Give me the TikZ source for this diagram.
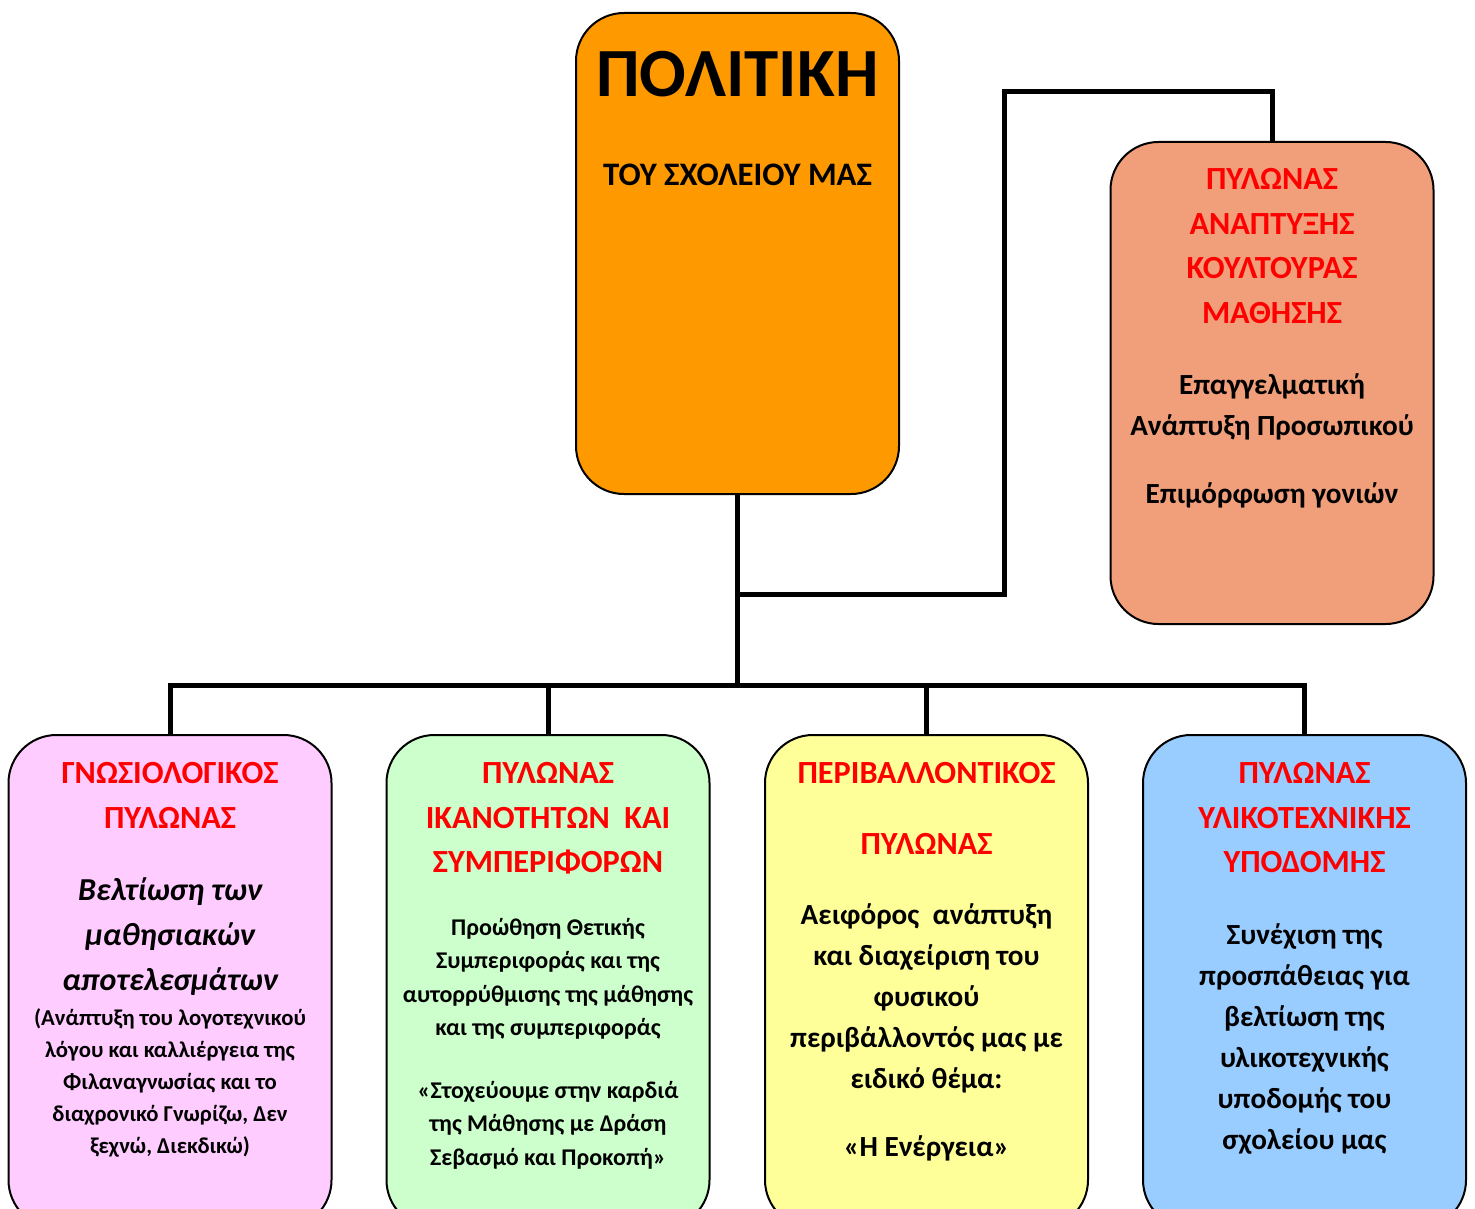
\documentclass[tikz,border=0pt]{standalone}
\usepackage{fontspec}
\setmainfont{Carlito}
\usetikzlibrary{positioning}

\definecolor{polorange}{HTML}{FF9900}
\definecolor{salmonbox}{HTML}{F19E7B}
\definecolor{pinkbox}{HTML}{FFCCFF}
\definecolor{greenbox}{HTML}{CCFFCC}
\definecolor{yellowbox}{HTML}{FFFF99}
\definecolor{bluebox}{HTML}{99CCFF}

\tikzset{
  pillar/.style={draw=black, line width=2pt, rounded corners=48pt,
    minimum width=323pt, minimum height=482pt, inner sep=0pt},
  conn/.style={draw=black, line width=5pt},
  redtitle/.style={text=red, font=\bfseries\fontsize{32.3}{44.5}\selectfont,
    align=center, anchor=north, inner sep=0pt},
  bodytext/.style={font=\bfseries\fontsize{29.2}{41}\selectfont,
    align=center, anchor=north, inner sep=0pt},
  smalltext/.style={font=\bfseries\fontsize{24}{33.5}\selectfont,
    align=center, anchor=north, inner sep=0pt}
}

\begin{document}
\begin{tikzpicture}[x=1pt, y=-1pt]
        \useasboundingbox (0,0) rectangle (1475,1209);
        \clip (0,0) rectangle (1475,1209);

        % Define nodes
        \node[pillar, fill=polorange, minimum height=481pt] (politiki) at (737.5,253.5) {};
        \node[pillar, fill=salmonbox] (koultoura) at (1272,383) {};

        \node[pillar, fill=pinkbox, minimum height=493pt] (gnosi) at (170,981.5) {};
        \node[pillar, fill=greenbox, minimum height=493pt] (ikanot) at (548,981.5) {};
        \node[pillar, fill=yellowbox, minimum height=493pt] (perib) at (926.5,981.5) {};
        \node[pillar, fill=bluebox, minimum height=493pt] (ypodomi) at (1304.5,981.5) {};

        \coordinate (bus) at (737.5,685);
        \coordinate (elbow) at (737.5,594);
        \coordinate (riser) at (1004,92);

        % Texts of the boxes
        \node[anchor=north, inner sep=0pt, font=\bfseries\fontsize{69}{70}\selectfont] (politikiT) at (737.5,51.5) {ΠΟΛΙΤΙΚΗ};
        \node[anchor=north, inner sep=0pt, font=\bfseries\fontsize{32.8}{44}\selectfont] (sxoleioT) at (737.5,163.5) {ΤΟΥ ΣΧΟΛΕΙΟΥ ΜΑΣ};

        \node[redtitle] (koulturaT) at (1272,168.5) {ΠΥΛΩΝΑΣ\\ΑΝΑΠΤΥΞΗΣ\\ΚΟΥΛΤΟΥΡΑΣ\\ΜΑΘΗΣΗΣ};
        \node[bodytext] (koulturaB) at (1272,373) {Επαγγελματική\\Ανάπτυξη Προσωπικού};
        \node[bodytext] (goneisB) at (1272,482) {Επιμόρφωση γονιών};

        \node[redtitle] (gnosiT) at (170,762.5) {ΓΝΩΣΙΟΛΟΓΙΚΟΣ\\ΠΥΛΩΝΑΣ};
        \node[redtitle, text=black, font=\bfseries\itshape\fontsize{32}{45}\selectfont] (gnosiB) at (170,877.5) {Βελτίωση των\\μαθησιακών\\αποτελεσμάτων};
        \node[smalltext, font=\bfseries\fontsize{22.7}{32}\selectfont] (gnosiS) at (170,1008.5) {(Ανάπτυξη του λογοτεχνικού\\λόγου και καλλιέργεια της\\Φιλαναγνωσίας και το\\διαχρονικό Γνωρίζω, Δεν\\ξεχνώ, Διεκδικώ)};

        \node[redtitle] (ikanotT) at (548,762.5) {ΠΥΛΩΝΑΣ\\ΙΚΑΝΟΤΗΤΩΝ~ ΚΑΙ\\ΣΥΜΠΕΡΙΦΟΡΩΝ};
        \node[smalltext] (ikanotB) at (548,918) {Προώθηση Θετικής\\Συμπεριφοράς και της\\αυτορρύθμισης της μάθησης\\και της συμπεριφοράς};
        \node[smalltext] (ikanotQ) at (548,1081) {«Στοχεύουμε στην καρδιά\\της Μάθησης με Δράση\\Σεβασμό και Προκοπή»};

        \node[redtitle] (peribT) at (926.5,762.5) {ΠΕΡΙΒΑΛΛΟΝΤΙΚΟΣ\\[26pt]ΠΥΛΩΝΑΣ};
        \node[bodytext] (peribB) at (926.5,903) {Αειφόρος~ ανάπτυξη\\και διαχείριση του\\φυσικού\\περιβάλλοντός μας με\\ειδικό θέμα:};
        \node[bodytext] (peribQ) at (926.5,1135) {«Η Ενέργεια»};

        \node[redtitle] (ypodomiT) at (1304.5,762.5) {ΠΥΛΩΝΑΣ\\ΥΛΙΚΟΤΕΧΝΙΚΗΣ\\ΥΠΟΔΟΜΗΣ};
        \node[bodytext] (ypodomiB) at (1304.5,923) {Συνέχιση της\\προσπάθειας για\\βελτίωση της\\υλικοτεχνικής\\υποδομής του\\σχολείου μας};

        % Draw edges
        \draw[conn] (politiki.south) -- (bus);
        \draw[conn] (gnosi.north) |- (bus) -| (ypodomi.north);
        \foreach \p in {ikanot,perib}
            \draw[conn] (\p.north) -- (\p.north |- bus);
        \draw[conn] (elbow) -| (riser) -| (koultoura.north);
    \end{tikzpicture}
\end{document}
